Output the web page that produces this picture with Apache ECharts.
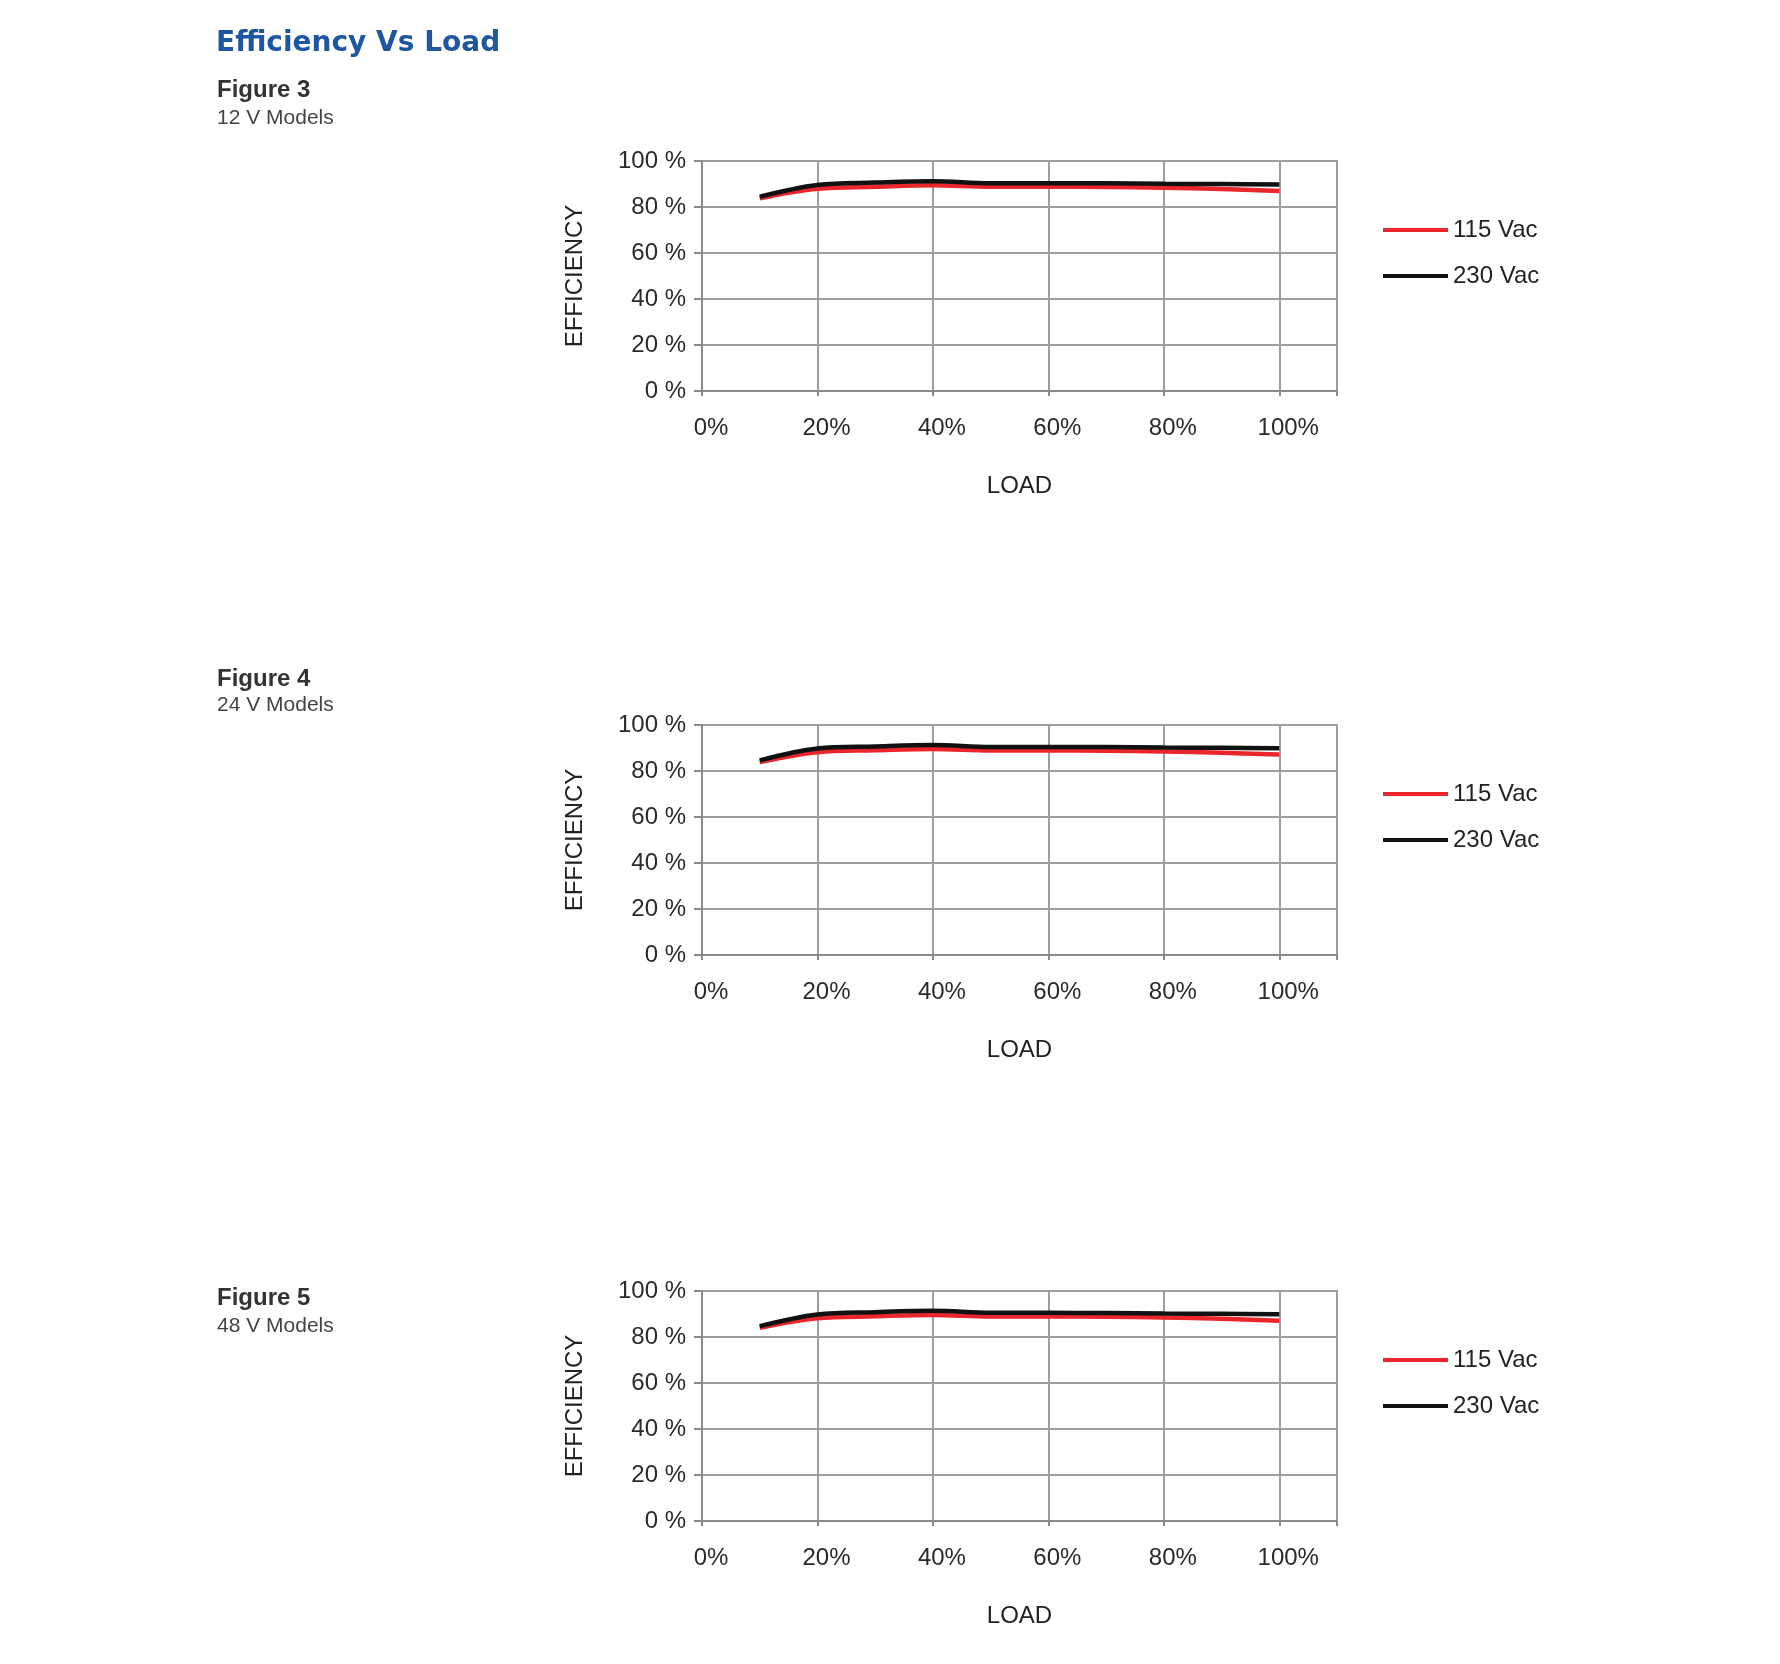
<!DOCTYPE html>
<html>
<head>
<meta charset="utf-8">
<script src="https://cdn.jsdelivr.net/npm/echarts@6/dist/echarts.min.js"></script>
<style>
html,body{margin:0;padding:0;background:#fff;}
#c{width:1780px;height:1664px;}
</style>
</head>
<body>
<div id="c"></div>
<script>
// ---- data ----
const loads = [10, 20, 30, 40, 50, 60, 70, 80, 90, 100];
const xTicks = [0, 20, 40, 60, 80, 100];
const yTicks = [0, 20, 40, 60, 80, 100];
const seriesNames = ['115 Vac', '230 Vac'];

const fig3_115 = [83.8, 87.9, 88.8, 89.5, 88.8, 88.8, 88.7, 88.4, 87.8, 87.0];
const fig3_230 = [84.5, 89.6, 90.6, 91.2, 90.3, 90.3, 90.3, 90.1, 90.0, 89.8];
const fig4_115 = [83.9, 88.2, 89.0, 89.6, 88.9, 88.9, 88.8, 88.5, 87.9, 87.2];
const fig4_230 = [84.6, 89.8, 90.7, 91.3, 90.4, 90.4, 90.4, 90.2, 90.1, 89.9];
const fig5_115 = [84.0, 88.1, 89.0, 89.6, 88.9, 88.9, 88.8, 88.5, 87.9, 87.1];
const fig5_230 = [84.7, 89.8, 90.8, 91.4, 90.5, 90.5, 90.4, 90.2, 90.1, 89.9];

const figures = [
  {title: 'Figure 3', sub: '12 V Models', s115: fig3_115, s230: fig3_230},
  {title: 'Figure 4', sub: '24 V Models', s115: fig4_115, s230: fig4_230},
  {title: 'Figure 5', sub: '48 V Models', s115: fig5_115, s230: fig5_230}
];

// ---- layout ----
const gridTops = [161, 725, 1291];
const figTextTops = [[78, 108], [667, 695], [1286, 1316]];
const FONT = '"Liberation Sans", Arial, Helvetica, sans-serif';
const RED = '#e8262b', BLACK = '#111111';

const grids = [], xAxes = [], yAxes = [], series = [], legends = [], graphics = [];

graphics.push({type: 'text', left: 216, top: 30,
  style: {text: 'Efficiency Vs Load', font: 'bold 28px "DejaVu Sans", ' + FONT, fill: '#1d57a2'}});

figures.forEach((f, i) => {
  const top = gridTops[i];
  grids.push({left: 702, top: top, width: 635, height: 230, show: true,
    borderColor: '#8c8fc2', borderWidth: 2, backgroundColor: 'transparent'});
  xAxes.push({
    type: 'value', gridIndex: i, min: 0, max: 110, interval: 20,
    name: 'LOAD', nameLocation: 'middle', nameGap: 83,
    nameTextStyle: {fontFamily: FONT, fontSize: 24, color: '#222'},
    axisLine: {show: true, onZero: false, lineStyle: {color: '#8a8a8a', width: 2}},
    axisTick: {show: true, length: 5, lineStyle: {color: '#8a8a8a', width: 2}},
    splitLine: {show: true, lineStyle: {color: '#9e9e9e', width: 2}},
    axisLabel: {
      fontFamily: FONT, fontSize: 24, color: '#2a2a2a', margin: 25,
      padding: [0, 0, 0, 18],
      formatter: v => (xTicks.indexOf(v) >= 0 ? v + '%' : '')
    }
  });
  yAxes.push({
    type: 'value', gridIndex: i, min: 0, max: 100, interval: 20,
    name: 'EFFICIENCY', nameLocation: 'middle', nameGap: 115,
    nameTextStyle: {fontFamily: FONT, fontSize: 24, color: '#222'},
    axisLine: {show: true, lineStyle: {color: '#8a8a8a', width: 2}},
    axisTick: {show: true, length: 8, lineStyle: {color: '#8a8a8a', width: 2}},
    splitLine: {show: true, lineStyle: {color: '#9e9e9e', width: 2}},
    axisLabel: {
      fontFamily: FONT, fontSize: 24, color: '#2a2a2a', margin: 16,
      formatter: v => (yTicks.indexOf(v) >= 0 ? v + ' %' : '')
    }
  });
  series.push({
    name: seriesNames[0], type: 'line', xAxisIndex: i, yAxisIndex: i,
    data: loads.map((x, k) => [x, f.s115[k]]),
    smooth: 0.35, symbol: 'none', color: RED,
    lineStyle: {color: RED, width: 4.5}, z: 3
  });
  series.push({
    name: seriesNames[1], type: 'line', xAxisIndex: i, yAxisIndex: i,
    data: loads.map((x, k) => [x, f.s230[k]]),
    smooth: 0.35, symbol: 'none', color: BLACK,
    lineStyle: {color: BLACK, width: 4.5}, z: 4
  });
  legends.push({
    data: seriesNames.map(n => ({name: n, icon: 'rect'})),
    orient: 'vertical', left: 1383, top: top + 57, padding: 0,
    itemWidth: 65, itemHeight: 4, itemGap: 22,
    selectedMode: false,
    textStyle: {fontFamily: FONT, fontSize: 24, color: '#222', lineHeight: 24}
  });
  graphics.push({type: 'text', left: 217, top: figTextTops[i][0],
    style: {text: f.title, font: 'bold 24px ' + FONT, fill: '#333'}});
  graphics.push({type: 'text', left: 217, top: figTextTops[i][1],
    style: {text: f.sub, font: '21px ' + FONT, fill: '#444'}});
});

const chart = echarts.init(document.getElementById('c'));
chart.setOption({
  backgroundColor: '#fff',
  animation: false,
  grid: grids, xAxis: xAxes, yAxis: yAxes, series: series,
  legend: legends, graphic: graphics
});
</script>
</body>
</html>
